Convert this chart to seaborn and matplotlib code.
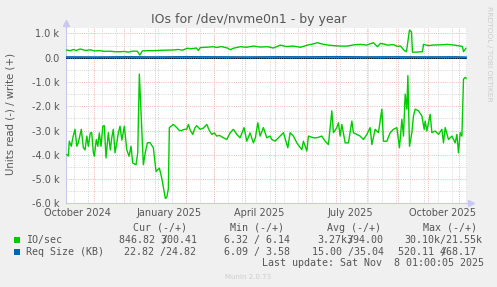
import numpy as np
import pandas as pd
import matplotlib
matplotlib.use('Agg')
import matplotlib.pyplot as plt
import matplotlib.dates as mdates
from matplotlib.patches import Rectangle
import seaborn as sns

# time range of the rrd "by year" graph (400 days)
start = pd.Timestamp('2024-10-04 01:00')
end = pd.Timestamp('2025-11-08 01:00')

# IO/sec write (+), day offset from start
io_write_day = [0, 4, 7, 10, 14, 17, 20, 24, 28, 34, 38, 43, 48, 54, 58, 62, 66, 71, 73.5, 76,
                80, 87, 92, 98, 107, 112, 116, 121, 125, 130, 132, 134, 140, 147, 150, 155, 161, 164, 167, 174,
                180, 187, 194, 201, 207, 214, 220, 227, 234, 241, 246, 251, 256, 262, 267, 273, 281, 287, 294, 300,
                307, 311, 314, 318, 321, 327, 331, 334, 338, 340, 343, 345, 346, 350, 356, 357, 362, 367, 374, 381,
                388, 394, 396, 397, 399.5]
io_write_val = [318, 290, 340, 300, 360, 320, 300, 330, 280, 290, 260, 270, 250, 245, 260, 230, 270, 268, 110, 280,
                290, 290, 300, 310, 320, 340, 310, 390, 370, 400, 300, 420, 430, 455, 420, 460, 400, 330, 390, 455,
                430, 480, 440, 455, 400, 520, 460, 480, 430, 520, 560, 620, 560, 520, 500, 480, 480, 530, 550, 520,
                620, 455, 590, 560, 520, 540, 470, 480, 290, 250, 1140, 1060, 230, 230, 250, 550, 500, 525, 530, 550,
                520, 480, 460, 250, 390]

# IO/sec read (-)
io_read_day = [0.4, 2, 3, 5, 6.5, 8.7, 10.5, 12, 15, 17, 18.7, 20.5, 22, 24, 25.4, 27, 28, 30, 31.5, 33,
               34.7, 36.5, 38, 39.7, 42, 44, 45.4, 47, 48.7, 50.5, 52, 53.7, 55.5, 58, 60.4, 62.7, 64.7, 66.4, 69.7, 71.4,
               73, 77, 79, 81, 83.7, 87, 89.7, 93, 95.4, 97.7, 99, 100.4, 102, 103, 107, 110.4, 113, 115.4, 118, 120.4,
               122, 124, 126.4, 128.7, 130.4, 133.7, 137, 140.4, 143, 145.4, 148, 150.4, 153, 157, 160.4, 163.7, 167, 170.4, 173.7, 177.7,
               180.4, 183.7, 187, 189, 191.4, 193.7, 197, 200.4, 203.7, 205.4, 208.7, 212, 217, 221.4, 223.7, 227, 230.4, 235.4, 237, 240.4,
               242, 247, 250.4, 255.4, 258.7, 262, 265.4, 267, 270.4, 272, 273.7, 275.4, 278.7, 282, 285.4, 287, 290.4, 293.7, 297, 300.4,
               303.7, 305.4, 308.7, 312, 315.4, 317, 320.4, 323.7, 327, 330.4, 333, 335.4, 337, 338.7, 340.4, 341.4, 343, 345.4, 347, 348.7,
               352, 355.4, 357.7, 358.7, 360.4, 363.7, 365.4, 368.7, 372, 375.4, 377, 378.7, 382, 385.4, 388.7, 390.4, 392, 393.7, 395.4, 397,
               398.7, 399.8]
io_read_val = [-3990, -4050, -3440, -3650, -3300, -2950, -3650, -3500, -2950, -3700, -3800, -3230, -3650, -3100, -3090, -3900, -4060, -3370, -3650, -3100,
               -3650, -2820, -2800, -4130, -3090, -3800, -3300, -2950, -3920, -3500, -3100, -2820, -3400, -2820, -3790, -4060, -3650, -4340, -4410, -3920,
               -670, -4410, -3900, -3510, -3500, -3710, -4690, -4550, -4960, -5500, -5800, -5750, -5400, -2880, -2750, -2880, -3000, -3000, -2950, -2950,
               -2750, -3000, -3160, -2880, -2800, -2950, -2900, -2750, -3000, -3160, -3100, -3230, -3200, -3300, -3370, -3100, -2950, -3160, -3300, -2880,
               -3440, -3100, -3510, -3300, -2680, -3230, -2880, -3300, -3230, -3370, -3440, -3300, -3090, -3710, -3090, -3230, -3510, -3790, -3440, -3850,
               -3230, -3300, -3300, -3230, -3440, -3580, -2190, -3090, -2880, -2680, -3230, -2750, -3510, -3510, -2610, -3090, -3160, -3230, -3370, -3160,
               -2880, -3580, -2950, -3090, -2120, -3440, -3440, -3090, -2950, -2880, -3710, -2540, -3230, -1500, -2120, -740, -3650, -3090, -2400, -2120,
               -2190, -2400, -2950, -2610, -3020, -2330, -3090, -3020, -3160, -2950, -3510, -2880, -3370, -3230, -3510, -3160, -3920, -3090, -3230, -880,
               -810, -850]

# Req Size (KB): write (+) / read (-)
req_day = [0, 30, 60, 90, 120, 150, 180, 210, 240, 270, 300, 330, 360, 390, 400]
req_write_val = [35, 30, 38, 33, 40, 36, 32, 38, 35, 42, 34, 37, 33, 36, 25]
req_read_val = [-14, -16, -12, -18, -15, -13, -17, -14, -16, -15, -12, -18, -14, -16, -23]

x_labels = ['October 2024', 'January 2025', 'April 2025', 'July 2025', 'October 2025']
x_label_dates = ['2024-10-15', '2025-01-15', '2025-04-15', '2025-07-15', '2025-10-15']
y_ticks = [1000, 0, -1000, -2000, -3000, -4000, -5000, -6000]
y_labels = ['1.0 k', '0.0', '-1.0 k', '-2.0 k', '-3.0 k', '-4.0 k', '-5.0 k', '-6.0 k']

legend_rows = [
    ('IO/sec', '#00cc00'),
    ('Req Size (KB)', '#0066b3'),
]

W, H = 497, 287


def fx(px):
    return px / W


def fy(py):
    return 1 - py / H


def to_dates(days):
    return start + pd.to_timedelta(np.array(days, dtype=float), unit='D')


sns.set_style('white')
plt.rcParams['font.family'] = ['DejaVu Sans']

fig = plt.figure(figsize=(W / 100, H / 100), dpi=100, facecolor='#f0f0f0')
ax = fig.add_axes([fx(66.3), fy(203.3), (466.5 - 66.3) / W, (203.3 - 28) / H])
ax.set_facecolor('white')

df_w = pd.DataFrame({'date': to_dates(io_write_day), 'val': io_write_val})
df_r = pd.DataFrame({'date': to_dates(io_read_day), 'val': io_read_val})
df_qw = pd.DataFrame({'date': to_dates(req_day), 'val': req_write_val})
df_qr = pd.DataFrame({'date': to_dates(req_day), 'val': req_read_val})

# grid: gray every 14 days, red at month start; gray every 500, red every 1000
minor_col = '#d9d9d9'
major_col = '#f2b9b9'
dot = (0, (1, 1.2))
for d in pd.date_range('2024-10-12', end, freq='14D'):
    ax.axvline(d, color=minor_col, lw=0.72, ls=dot, zorder=0)
for d in pd.date_range('2024-11-01', end, freq='MS'):
    ax.axvline(d, color=major_col, lw=0.72, ls=dot, zorder=0)
for v in np.arange(-5500, 1300, 1000):
    ax.axhline(v, color=minor_col, lw=0.72, ls=dot, zorder=0)
for v in y_ticks:
    ax.axhline(v, color=major_col, lw=0.72, ls=dot, zorder=0)

sns.lineplot(data=df_w, x='date', y='val', ax=ax, color='#00cc00', lw=1.0, estimator=None, zorder=3)
sns.lineplot(data=df_r, x='date', y='val', ax=ax, color='#00cc00', lw=1.0, estimator=None, zorder=3)
sns.lineplot(data=df_qw, x='date', y='val', ax=ax, color='#0066b3', lw=1.1, estimator=None, zorder=4)
sns.lineplot(data=df_qr, x='date', y='val', ax=ax, color='#0066b3', lw=1.1, estimator=None, zorder=4)
ax.axhline(0, color='black', lw=0.72, ls=dot, zorder=5)

ax.set_xlim(start, end)
ax.set_ylim(-6000, 1225)
ax.set_xticks(pd.to_datetime(x_label_dates), x_labels)
ax.set_yticks(y_ticks, y_labels)
ax.tick_params(axis='both', length=0, labelsize=7, colors='#555555')
ax.tick_params(axis='y', pad=5)
ax.tick_params(axis='x', pad=3.3)
ax.set_xlabel('')
ax.set_ylabel('')

for s in ['top', 'right']:
    ax.spines[s].set_visible(False)
for s in ['left', 'bottom']:
    ax.spines[s].set_color('#c8c8f0')
    ax.spines[s].set_linewidth(0.8)
ax.plot([0, 0], [1, 1.03], transform=ax.transAxes, color='#c8c8f0', lw=0.8, clip_on=False)
ax.plot([1, 1.008], [0, 0], transform=ax.transAxes, color='#c8c8f0', lw=0.8, clip_on=False)
ax.plot(0, 1.03, marker='^', ms=4.5, color='#c8c8f0', transform=ax.transAxes, clip_on=False)
ax.plot(1.011, 0, marker='>', ms=4.5, color='#c8c8f0', transform=ax.transAxes, clip_on=False)

txt = '#555555'
fig.text(0.5, fy(19), 'IOs for /dev/nvme0n1 - by year', ha='center', va='center', fontsize=9, color=txt)
fig.text(fx(11), fy(114), 'Units read (-) / write (+)', rotation=90, ha='center', va='center',
         fontsize=7.3, color=txt)
fig.text(fx(488.5), fy(53.5), 'RRDTOOL / TOBI OETIKER', rotation=270, ha='center', va='center',
         fontsize=5.4, color='#cccccc')

mono = dict(family='DejaVu Sans Mono', fontsize=7.2, color=txt, va='center', ha='left')
fig.text(fx(133), fy(227.7), 'Cur (-/+)', **mono)
fig.text(fx(230), fy(227.7), 'Min (-/+)', **mono)
fig.text(fx(327), fy(227.7), 'Avg (-/+)', **mono)
fig.text(fx(423), fy(227.7), 'Max (-/+)', **mono)

row_y = [240, 251.7]
for (name, col), y in zip(legend_rows, row_y):
    fig.patches.append(Rectangle((fx(14), fy(y + 3)), 6 / W, 6 / H, transform=fig.transFigure,
                                 facecolor=col, edgecolor='none'))
    fig.text(fx(26.3), fy(y), name, **mono)

# row 1 (some slashes overlap digits, as in the rrd legend)
fig.text(fx(119), fy(240), '846.82 300.41', **mono)
fig.text(fx(161), fy(240), '/', **mono)
fig.text(fx(224.3), fy(240), '6.32 / 6.14', **mono)
fig.text(fx(317.3), fy(240), '3.27k394.00', **mono)
fig.text(fx(347.3), fy(240), '/', **mono)
fig.text(fx(404.3), fy(240), '30.10k/21.55k', **mono)
# row 2
fig.text(fx(124.3), fy(251.7), '22.82 /24.82', **mono)
fig.text(fx(224.3), fy(251.7), '6.09 / 3.58', **mono)
fig.text(fx(311.7), fy(251.7), '15.00 /35.04', **mono)
fig.text(fx(398.3), fy(251.7), '520.11 468.17', **mono)
fig.text(fx(440.3), fy(251.7), '/', **mono)

fig.text(fx(261.7), fy(263.3), 'Last update: Sat Nov  8 01:00:05 2025', **mono)
fig.text(fx(248), fy(276.7), 'Munin 2.0.73', ha='center', va='center', fontsize=5, color='#cccccc')

fig.savefig('out.png', dpi=100, facecolor=fig.get_facecolor())
